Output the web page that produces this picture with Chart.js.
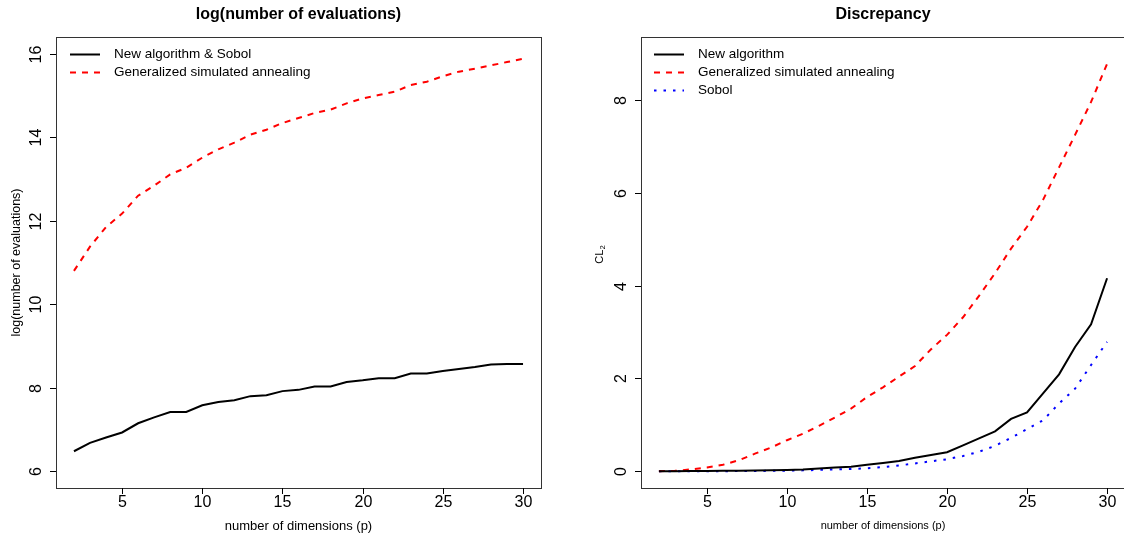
<!DOCTYPE html>
<html>
<head>
<meta charset="utf-8">
<script src="https://cdn.jsdelivr.net/npm/chart.js@4.4.1/dist/chart.umd.min.js"></script>
<style>
  html, body { margin: 0; padding: 0; background: #fff; overflow: hidden; width: 1124px; height: 533px; }
  .panel { position: absolute; top: 0; height: 533px; }
  #left { left: 0; width: 562px; }
  #right { left: 562px; width: 565px; }
</style>
</head>
<body>
<div class="panel" id="left"><canvas id="c1"></canvas></div>
<div class="panel" id="right"><canvas id="c2"></canvas></div>
<script>
// ---- data ----
const dims = [2, 3, 4, 5, 6, 7, 8, 9, 10, 11, 12, 13, 14, 15, 16, 17, 18, 19, 20, 21, 22, 23, 24, 25, 26, 27, 28, 29, 30];

// left panel: log(number of evaluations)
const evalNewSobol = [6.48, 6.68, 6.81, 6.93, 7.15, 7.29, 7.42, 7.42, 7.58, 7.66, 7.70, 7.80, 7.82, 7.92, 7.95,
  8.03, 8.03, 8.14, 8.18, 8.23, 8.23, 8.34, 8.34, 8.40, 8.45, 8.50, 8.56, 8.57, 8.57];
const evalGSA = [10.80, 11.38, 11.85, 12.17, 12.60, 12.84, 13.11, 13.27, 13.51, 13.71, 13.87, 14.06, 14.18, 14.34, 14.46,
  14.58, 14.66, 14.81, 14.93, 15.01, 15.09, 15.25, 15.33, 15.46, 15.57, 15.64, 15.72, 15.80, 15.88];

// right panel: discrepancy CL2
const discNew = [0, 0.002, 0.004, 0.006, 0.01, 0.013, 0.017, 0.022, 0.03, 0.04, 0.06, 0.08, 0.10, 0.14, 0.18,
  0.22, 0.29, 0.35, 0.41, 0.56, 0.71, 0.86, 1.13, 1.27, 1.68, 2.09, 2.68, 3.17, 4.16];
const discGSA = [0, 0.01, 0.04, 0.08, 0.14, 0.24, 0.38, 0.51, 0.67, 0.81, 0.98, 1.16, 1.35, 1.60, 1.81,
  2.04, 2.27, 2.63, 2.94, 3.32, 3.78, 4.27, 4.80, 5.27, 5.85, 6.55, 7.25, 7.96, 8.78];
const discSobol = [0, 0, 0, 0, 0.003, 0.005, 0.008, 0.01, 0.015, 0.02, 0.03, 0.04, 0.05, 0.065, 0.09,
  0.125, 0.17, 0.215, 0.26, 0.33, 0.42, 0.55, 0.72, 0.91, 1.10, 1.46, 1.78, 2.29, 2.79];

const xTicks = [5, 10, 15, 20, 25, 30];
const evalTicks = [6, 8, 10, 12, 14, 16];
const discTicks = [0, 2, 4, 6, 8];

const FONT = '"Liberation Sans", Arial, Helvetica, sans-serif';

function pts(ys) {
  return dims.map((d, i) => ({ x: d, y: ys[i] }));
}

function lineSet(label, ys, color, dash) {
  return {
    label: label,
    data: pts(ys),
    borderColor: color,
    borderWidth: 2,
    borderDash: dash,
    borderCapStyle: 'butt',
    pointRadius: 0,
    tension: 0,
    fill: false
  };
}

// R-like axes, box, titles and legend, drawn from the chart scales
const rAxes = {
  id: 'rAxes',
  afterDraw(chart, args, o) {
    const ctx = chart.ctx;
    const a = chart.chartArea;
    const xs = chart.scales.x, ys = chart.scales.y;
    ctx.save();
    ctx.strokeStyle = '#333';
    ctx.lineWidth = 1;
    ctx.strokeRect(Math.round(a.left) + 0.5, Math.round(a.top) + 0.5,
      Math.round(a.right - a.left), Math.round(a.bottom - a.top));

    ctx.fillStyle = '#000';
    ctx.strokeStyle = '#000';
    // x ticks
    ctx.font = '16px ' + FONT;
    ctx.textAlign = 'center';
    ctx.textBaseline = 'middle';
    o.xTicks.forEach(v => {
      const px = Math.round(xs.getPixelForValue(v)) + 0.5;
      ctx.beginPath();
      ctx.moveTo(px, a.bottom);
      ctx.lineTo(px, a.bottom + 6);
      ctx.stroke();
      ctx.fillText(String(v), px, a.bottom + 15);
    });
    // y ticks (rotated labels)
    o.yTicks.forEach(v => {
      const py = Math.round(ys.getPixelForValue(v)) + 0.5;
      ctx.beginPath();
      ctx.moveTo(a.left - 6, py);
      ctx.lineTo(a.left, py);
      ctx.stroke();
      ctx.save();
      ctx.translate(a.left - 19, py);
      ctx.rotate(-Math.PI / 2);
      ctx.fillText(String(v), 0, 0);
      ctx.restore();
    });
    // title
    ctx.font = 'bold 16px ' + FONT;
    ctx.fillText(o.title, (a.left + a.right) / 2, 15);
    // x title
    ctx.font = o.xFont + 'px ' + FONT;
    ctx.fillText(o.xTitle, (a.left + a.right) / 2, a.bottom + 38);
    // y title
    ctx.save();
    ctx.translate(a.left - o.yOff, (a.top + a.bottom) / 2 + (o.yShift || 0));
    ctx.rotate(-Math.PI / 2);
    ctx.font = o.yFont + 'px ' + FONT;
    if (o.ySub) {
      const w1 = ctx.measureText(o.yTitle).width;
      ctx.font = (o.yFont * 0.7) + 'px ' + FONT;
      const w2 = ctx.measureText(o.ySub).width;
      ctx.textAlign = 'left';
      ctx.font = o.yFont + 'px ' + FONT;
      ctx.fillText(o.yTitle, -(w1 + w2) / 2, 0);
      ctx.font = (o.yFont * 0.7) + 'px ' + FONT;
      ctx.fillText(o.ySub, -(w1 + w2) / 2 + w1, 3);
    } else {
      ctx.fillText(o.yTitle, 0, 0);
    }
    ctx.restore();

    // legend
    ctx.font = '13.5px ' + FONT;
    ctx.textAlign = 'left';
    chart.data.datasets.forEach((ds, i) => {
      const y = a.top + 17.5 + i * 18;
      const x0 = a.left + o.legX;
      ctx.save();
      ctx.strokeStyle = ds.borderColor;
      ctx.lineWidth = 2;
      ctx.setLineDash(ds.borderDash || []);
      ctx.beginPath();
      ctx.moveTo(x0, y);
      ctx.lineTo(x0 + 30, y);
      ctx.stroke();
      ctx.restore();
      ctx.fillText(ds.label, x0 + 44, y);
    });
    ctx.restore();
  }
};

function makeChart(id, datasets, yMin, yMax, pad, opts) {
  return new Chart(document.getElementById(id), {
    type: 'line',
    data: { datasets: datasets },
    options: {
      responsive: true,
      maintainAspectRatio: false,
      animation: false,
      layout: { padding: pad },
      plugins: { legend: { display: false }, tooltip: { enabled: false }, rAxes: opts },
      scales: {
        x: { type: 'linear', min: 0.88, max: 31.12, display: false },
        y: { type: 'linear', min: yMin, max: yMax, display: false }
      }
    },
    plugins: [rAxes]
  });
}

makeChart('c1', [
  lineSet('New algorithm & Sobol', evalNewSobol, '#000', []),
  lineSet('Generalized simulated annealing', evalGSA, '#ff0000', [6, 6])
], 5.6, 16.4, { left: 56, right: 21, top: 37, bottom: 45 }, {
  xTicks: xTicks, yTicks: evalTicks,
  title: 'log(number of evaluations)',
  xTitle: 'number of dimensions (p)', xFont: 13,
  yTitle: 'log(number of evaluations)', yFont: 12.5, yOff: 39,
  legX: 14
});

makeChart('c2', [
  lineSet('New algorithm', discNew, '#000', []),
  lineSet('Generalized simulated annealing', discGSA, '#ff0000', [6, 6]),
  lineSet('Sobol', discSobol, '#0000ff', [2.5, 7])
], -0.36, 9.36, { left: 79, right: 2, top: 37, bottom: 45 }, {
  xTicks: xTicks, yTicks: discTicks,
  title: 'Discrepancy',
  xTitle: 'number of dimensions (p)', xFont: 11,
  yTitle: 'CL', ySub: '2', yFont: 11, yOff: 41, yShift: -8,
  legX: 13
});
</script>
</body>
</html>
